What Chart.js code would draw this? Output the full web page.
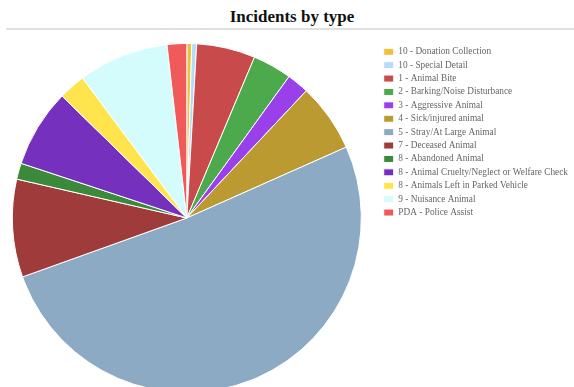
<!DOCTYPE html>
<html>
<head>
<meta charset="utf-8">
<script src="https://cdn.jsdelivr.net/npm/chart.js@4.4.1/dist/chart.umd.min.js"></script>
<style>
    body { margin: 0; background: #fff; overflow: hidden; }
    #title {
        position: absolute; left: 6px; top: 0; width: 572px; height: 28px;
        border-bottom: 2px solid #e0e0e0;
        font: bold 17px "Liberation Serif", "Times New Roman", serif;
        color: #111; text-align: center; line-height: 33px;
    }
    #wrap { position: absolute; left: -6px; top: 31px; }
</style>
</head>
<body>
<div id="title">Incidents by type</div>
<div id="wrap"><canvas id="typeChart" width="584" height="370"></canvas></div>
<script>
// Incident types, in the order they appear in the legend
const types = [
    '10 - Donation Collection',
    '10 - Special Detail',
    '1 - Animal Bite',
    '2 - Barking/Noise Disturbance',
    '3 - Aggressive Animal',
    '4 - Sick/injured animal',
    '5 - Stray/At Large Animal',
    '7 - Deceased Animal',
    '8 - Abandoned Animal',
    '8 - Animal Cruelty/Neglect or Welfare Check',
    '8 - Animals Left in Parked Vehicle',
    '9 - Nuisance Animal',
    'PDA - Police Assist'
];

// Incident counts
const counts = [1, 1, 12, 8, 4.5, 14, 113, 20, 3.3, 16, 5.5, 18.5, 4];

const sliceColors = [
    '#eec03c', '#b6dbf6', '#c94a4a', '#4caa4c', '#9a40ea', '#bc9a32', '#8caac4',
    '#a03b3b', '#3b8a3b', '#7530be', '#ffe44e', '#d4fcfc', '#f05a5a'
];

const ctx = document.getElementById('typeChart').getContext('2d');

new Chart(ctx, {
    type: 'pie',
    data: {
        labels: types,
        datasets: [{
            data: counts,
            backgroundColor: sliceColors,
            borderColor: '#ffffff',
            borderWidth: 1
        }]
    },
    options: {
        responsive: false,
        animation: false,
        layout: { padding: { top: 12, bottom: 8, left: 0, right: 0 } },
        plugins: {
            tooltip: { enabled: false },
            legend: {
                position: 'right',
                align: 'start',
                labels: {
                    boxWidth: 10,
                    boxHeight: 7,
                    padding: 4.1,
                    color: '#666',
                    font: { family: '"Liberation Serif", "Times New Roman", serif', size: 9.3 }
                }
            }
        }
    }
});
</script>
</body>
</html>
